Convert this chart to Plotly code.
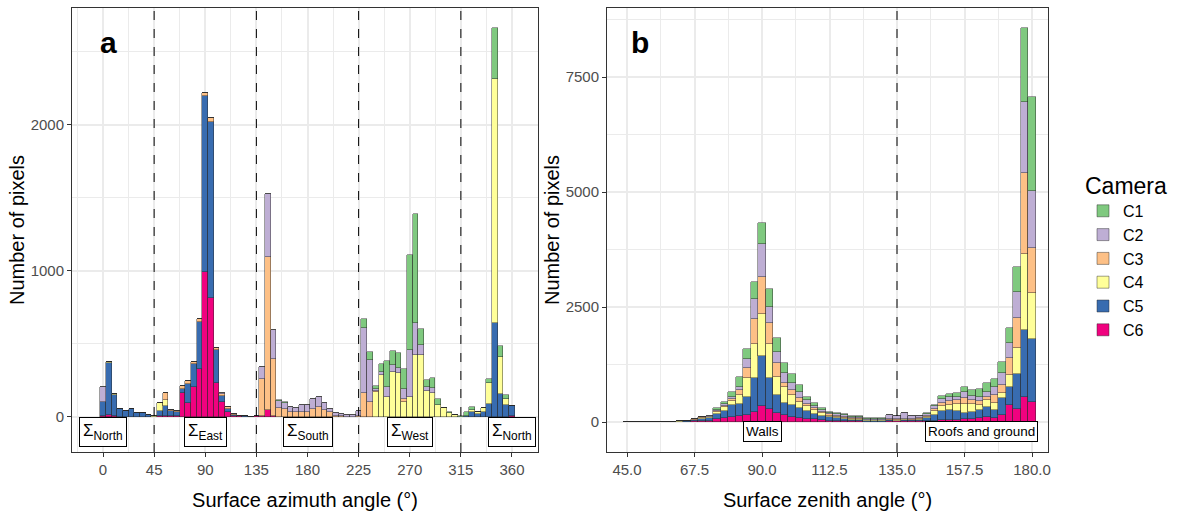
import plotly.graph_objects as go

# ---------------- Panel a: surface azimuth (5 deg bins) ----------------
az_bins = list(range(0, 365, 5))
# columns: C1, C2, C3, C4, C5, C6
az_rows = [
    (0, 104, 0, 0, 95, 8), (0, 0, 0, 8, 355, 12), (0, 0, 0, 7, 145, 5), (0, 0, 0, 0, 54, 3),
    (0, 0, 0, 0, 38, 3), (0, 0, 0, 0, 54, 3), (0, 0, 0, 0, 28, 2), (0, 0, 0, 0, 28, 2),
    (0, 0, 0, 2, 12, 0), (0, 0, 0, 5, 3, 0), (0, 0, 0, 51, 38, 5), (0, 0, 46, 41, 70, 5),
    (0, 0, 8, 0, 30, 10), (0, 0, 8, 0, 22, 10), (0, 0, 18, 0, 28, 166), (0, 0, 21, 0, 132, 94),
    (0, 0, 19, 0, 157, 203), (0, 0, 18, 0, 326, 327), (0, 0, 22, 0, 1208, 991), (0, 0, 28, 0, 1205, 813),
    (0, 0, 16, 0, 228, 231), (0, 7, 10, 0, 40, 105), (0, 5, 10, 0, 20, 36), (0, 0, 3, 0, 5, 10),
    (0, 0, 0, 0, 2, 5), (0, 0, 0, 0, 2, 3), (0, 0, 0, 0, 1, 2), (0, 0, 0, 0, 2, 8),
    (0, 80, 250, 0, 0, 10), (0, 429, 1050, 0, 0, 48), (0, 199, 390, 0, 0, 5), (5, 50, 60, 0, 0, 0),
    (8, 42, 55, 0, 0, 0), (0, 35, 36, 0, 0, 0), (0, 23, 36, 0, 0, 0), (0, 46, 36, 0, 0, 0),
    (0, 46, 36, 0, 0, 0), (0, 68, 53, 0, 0, 0), (0, 68, 71, 0, 0, 0), (0, 46, 48, 0, 0, 0),
    (0, 25, 32, 0, 0, 0), (0, 20, 5, 0, 0, 0), (0, 18, 5, 0, 0, 0), (0, 12, 2, 0, 0, 0),
    (0, 12, 2, 0, 0, 0), (0, 35, 8, 0, 0, 0), (57, 445, 167, 0, 0, 0), (55, 287, 103, 0, 0, 0),
    (20, 12, 8, 172, 0, 0), (53, 23, 0, 287, 0, 0), (178, 68, 0, 140, 0, 0), (100, 45, 0, 309, 0, 0),
    (107, 34, 0, 300, 0, 0), (137, 68, 18, 103, 0, 0), (655, 317, 0, 140, 0, 0), (748, 217, 0, 425, 0, 0),
    (107, 68, 0, 425, 0, 0), (50, 23, 0, 180, 0, 0), (69, 29, 0, 167, 0, 0), (39, 0, 0, 82, 0, 0),
    (0, 0, 0, 59, 0, 0), (3, 0, 0, 29, 0, 0), (0, 0, 0, 14, 0, 0), (5, 0, 0, 3, 0, 0),
    (25, 0, 0, 0, 7, 0), (18, 0, 0, 16, 32, 0), (0, 0, 0, 20, 17, 0), (0, 0, 0, 25, 34, 0),
    (29, 0, 0, 142, 89, 0), (349, 0, 0, 1667, 646, 0), (76, 0, 0, 255, 158, 0), (28, 0, 0, 41, 82, 0),
    (0, 2, 0, 0, 70, 5),
]

# ---------------- Panel b: surface zenith (2.5 deg bins) ----------------
zen_bins = [45 + 2.5 * i for i in range(55)]
zen_rows = [
    (0, 0, 0, 0, 0, 1), (0, 0, 0, 0, 0, 1), (0, 0, 0, 0, 1, 1), (0, 0, 0, 0, 1, 2),
    (0, 0, 0, 1, 2, 2), (0, 0, 0, 1, 3, 3), (0, 0, 1, 1, 4, 4), (0, 1, 1, 2, 5, 5),
    (1, 1, 2, 4, 11, 10), (3, 3, 5, 10, 24, 20), (8, 8, 8, 18, 45, 29), (10, 10, 10, 20, 50, 30),
    (30, 20, 20, 50, 120, 57), (50, 35, 30, 80, 170, 77), (94, 50, 40, 91, 254, 116), (203, 72, 109, 203, 246, 138),
    (210, 203, 203, 413, 399, 152), (377, 435, 551, 724, 739, 225), (449, 711, 811, 913, 1080, 355), (377, 362, 457, 739, 674, 275),
    (304, 254, 289, 399, 399, 188), (217, 217, 73, 362, 254, 152), (195, 145, 109, 217, 254, 116), (145, 145, 70, 147, 217, 80),
    (73, 80, 58, 109, 160, 71), (50, 60, 40, 80, 120, 56), (35, 45, 30, 57, 90, 40), (25, 35, 25, 40, 70, 30),
    (20, 35, 20, 30, 58, 25), (18, 35, 18, 26, 50, 20), (12, 30, 15, 20, 38, 15), (12, 35, 15, 18, 35, 15),
    (6, 22, 10, 12, 20, 10), (6, 24, 10, 12, 18, 10), (6, 26, 10, 10, 18, 10), (8, 80, 15, 15, 22, 12),
    (8, 60, 15, 15, 20, 12), (8, 120, 20, 20, 23, 12), (8, 55, 15, 17, 23, 12), (8, 45, 15, 20, 30, 12),
    (10, 40, 20, 40, 60, 18), (30, 60, 45, 80, 130, 25), (70, 75, 70, 110, 200, 40), (75, 80, 75, 115, 215, 49),
    (70, 75, 90, 145, 190, 53), (95, 145, 130, 196, 130, 58), (131, 87, 87, 166, 160, 65), (166, 95, 86, 109, 181, 80),
    (196, 100, 67, 145, 217, 116), (167, 181, 181, 150, 176, 80), (254, 254, 166, 124, 362, 152), (311, 326, 377, 254, 398, 370),
    (558, 565, 653, 558, 768, 275), (1623, 1529, 1768, 1652, 1464, 536), (2043, 1254, 963, 1008, 1362, 442),
]

cameras = ["C1", "C2", "C3", "C4", "C5", "C6"]
colors = ["#7FC97F", "#BEAED4", "#FDC086", "#FFFF99", "#386CB0", "#F0027F"]

az_series = {c: [r[i] for r in az_rows] for i, c in enumerate(cameras)}
zen_series = {c: [r[i] for r in zen_rows] for i, c in enumerate(cameras)}

az_labels = ["Σ<sub>North</sub>", "Σ<sub>East</sub>", "Σ<sub>South</sub>", "Σ<sub>West</sub>", "Σ<sub>North</sub>"]
az_label_x = [0, 90, 180, 270, 360]
az_split = [45, 135, 225, 315]
zen_labels = ["Walls", "Roofs and ground"]
zen_label_x = [90, 163]
zen_split = [135]

FONT = "Liberation Sans, Arial, sans-serif"
fig = go.Figure()

# stack bottom -> top: C6 ... C1
for c, col in reversed(list(zip(cameras, colors))):
    fig.add_trace(go.Bar(x=az_bins, y=az_series[c], width=5, name=c, marker=dict(color=col, line=dict(color="rgba(40,40,40,0.75)", width=0.6)),
                         legendgroup=c, showlegend=True, xaxis="x", yaxis="y"))
for c, col in reversed(list(zip(cameras, colors))):
    fig.add_trace(go.Bar(x=zen_bins, y=zen_series[c], width=2.5, name=c, marker=dict(color=col, line=dict(color="rgba(40,40,40,0.75)", width=0.6)),
                         legendgroup=c, showlegend=False, xaxis="x2", yaxis="y2"))

W, H = 1195, 517
dom_a = [72 / W, 538 / W]
dom_b = [607 / W, 1048 / W]
dom_y = [1 - 452 / H, 1 - 8 / H]

axis_common = dict(showline=True, mirror=True, linecolor="#333333", linewidth=1, ticks="outside", ticklen=4,
                   tickcolor="#333333", tickfont=dict(size=15, color="#4D4D4D", family=FONT), showgrid=True,
                   gridcolor="#EBEBEB", gridwidth=1.5, zeroline=False, automargin=False)

fig.update_layout(
    width=W, height=H, margin=dict(l=0, r=0, t=0, b=0), paper_bgcolor="white", plot_bgcolor="white",
    barmode="stack", bargap=0, font=dict(family=FONT, color="black"),
    xaxis=dict(domain=dom_a, range=[-27.3, 382.9], tick0=0, dtick=45, anchor="y",
               minor=dict(dtick=22.5, showgrid=True, gridcolor="#EBEBEB", gridwidth=0.8),
               title=dict(text="Surface azimuth angle (°)", font=dict(size=20), standoff=15), **axis_common),
    yaxis=dict(domain=dom_y, range=[-240, 2801], tick0=0, dtick=1000, anchor="x",
               minor=dict(dtick=500, showgrid=True, gridcolor="#EBEBEB", gridwidth=0.8),
               title=dict(text="Number of pixels", font=dict(size=20), standoff=0), **axis_common),
    xaxis2=dict(domain=dom_b, range=[38.33, 185.33], tick0=45, dtick=22.5, tickformat=".1f", anchor="y2",
                minor=dict(dtick=11.25, showgrid=True, gridcolor="#EBEBEB", gridwidth=0.8),
                title=dict(text="Surface zenith angle (°)", font=dict(size=20), standoff=15), **axis_common),
    yaxis2=dict(domain=dom_y, range=[-652, 9000], tick0=0, dtick=2500, anchor="x2",
                minor=dict(dtick=1250, showgrid=True, gridcolor="#EBEBEB", gridwidth=0.8),
                title=dict(text="Number of pixels", font=dict(size=20), standoff=0), **axis_common),
    legend=dict(x=1083 / W, y=1 - 164 / H, xanchor="left", yanchor="top", traceorder="reversed",
                title=dict(text="Camera", font=dict(size=23)), font=dict(size=16), tracegroupgap=0,
                itemwidth=30, bgcolor="rgba(0,0,0,0)"),
)

shapes = []
for v in az_split:
    shapes.append(dict(type="line", xref="x", yref="y domain", x0=v, x1=v, y0=0, y1=1,
                       line=dict(color="black", width=1, dash="dash")))
for v in zen_split:
    shapes.append(dict(type="line", xref="x2", yref="y2 domain", x0=v, x1=v, y0=0, y1=1,
                       line=dict(color="black", width=1, dash="dash")))
fig.update_layout(shapes=shapes)

ann = []
for t, xv in zip(az_labels, az_label_x):
    ann.append(dict(text=t, x=xv, y=-103, xref="x", yref="y", showarrow=False, font=dict(size=17, color="black"),
                    bordercolor="black", borderwidth=1, borderpad=3, bgcolor="white"))
for t, xv in zip(zen_labels, zen_label_x):
    ann.append(dict(text=t, x=xv, y=-217, xref="x2", yref="y2", showarrow=False, font=dict(size=13.5, color="black"),
                    bordercolor="black", borderwidth=1, borderpad=2, bgcolor="white"))
ann.append(dict(text="<b>a</b>", x=108 / W, y=1 - 42 / H, xref="paper", yref="paper", showarrow=False,
                xanchor="center", yanchor="middle", font=dict(size=30, color="black")))
ann.append(dict(text="<b>b</b>", x=640 / W, y=1 - 42 / H, xref="paper", yref="paper", showarrow=False,
                xanchor="center", yanchor="middle", font=dict(size=30, color="black")))
fig.update_layout(annotations=ann)

fig.write_html("out.html")
